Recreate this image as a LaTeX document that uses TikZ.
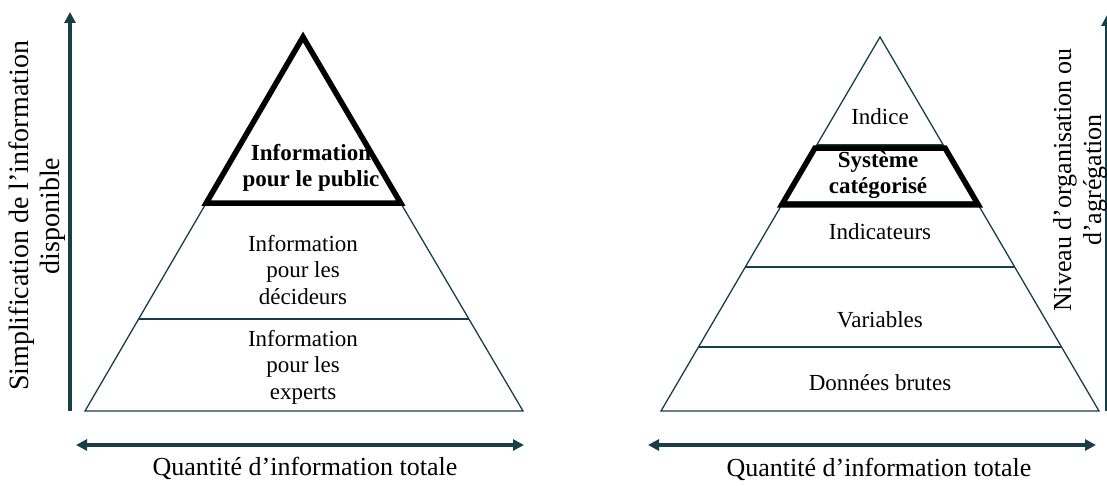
\documentclass[tikz,border=0pt]{standalone}
\usepackage{fontspec}
\setmainfont{Liberation Serif}
\usetikzlibrary{arrows.meta,calc}
\definecolor{pteal}{RGB}{24,62,72}

\begin{document}
\begin{tikzpicture}[x=1pt, y=-1pt,
  layer/.style={draw=pteal, line width=1.3pt},
  frame/.style={draw=black, line width=5.5pt, line join=miter},
  axis/.style={draw=pteal, line width=4pt, -{Triangle[length=11pt, width=11pt]}},
  axisboth/.style={draw=pteal, line width=4pt,
                   {Triangle[length=11pt, width=11pt]}-{Triangle[length=11pt, width=11pt]}},
  lvl/.style={align=center, font=\fontsize{23}{26.5}\selectfont, inner sep=0pt},
  lvlb/.style={lvl, font=\fontsize{23}{26.5}\selectfont\bfseries},
  axlabel/.style={align=center, font=\fontsize{26}{30}\selectfont, inner sep=0pt}
]
\useasboundingbox (0,0) rectangle (1107,486);

% left pyramid
\coordinate (ltop) at (303,37);
\coordinate (lbl) at (85,411);
\coordinate (lbr) at (523,411);
\draw[layer] (ltop) -- (lbl) -- (lbr) -- cycle;
\draw[layer] ($(ltop)!0.754!(lbl)$) -- ($(ltop)!0.754!(lbr)$);
\draw[frame] (ltop) -- ($(ltop)!0.444!(lbl)$) -- ($(ltop)!0.444!(lbr)$) -- cycle;

\node[lvlb] (public) at (311,168) {Information\\pour le public};
\node[lvl] (decideurs) at (303,270) {Information\\pour les\\décideurs};
\node[lvl] (experts) at (303,367) {Information\\pour les\\experts};

% right pyramid
\coordinate (rtop) at (880,37);
\coordinate (rbl) at (661,411);
\coordinate (rbr) at (1099,411);
\draw[layer] (rtop) -- (rbl) -- (rbr) -- cycle;
\foreach \t in {0.289,0.439,0.615,0.829}
  \draw[layer] ($(rtop)!\t!(rbl)$) -- ($(rtop)!\t!(rbr)$);
\draw[frame] ($(rtop)!0.297!(rbl)$) -- ($(rtop)!0.297!(rbr)$)
  -- ($(rtop)!0.449!(rbr)$) -- ($(rtop)!0.449!(rbl)$) -- cycle;

\node[lvl] (indice) at (880,117) {Indice};
\node[lvlb] (systeme) at (878,175) {Système\\catégorisé};
\node[lvl] (indicateurs) at (880,232) {Indicateurs};
\node[lvl] (variables) at (880,320) {Variables};
\node[lvl] (donnees) at (880,383) {Données brutes};

% axes
\coordinate (lvb) at (70,411);
\coordinate (lvt) at (70,12);
\coordinate (lhl) at (76,445);
\coordinate (lhr) at (524,445);
\coordinate (rvb) at (1107,411);
\coordinate (rvt) at (1107,15);
\coordinate (rhl) at (648,445);
\coordinate (rhr) at (1096,445);
\draw[axis] (lvb) -- (lvt);
\draw[axis] (rvb) -- (rvt);
\draw[axisboth] (lhl) -- (lhr);
\draw[axisboth] (rhl) -- (rhr);

\node[axlabel, rotate=90, font=\fontsize{28}{31.5}\selectfont] (simpl) at (37,216)
  {Simplification de l’information\\disponible};
\node[axlabel, rotate=90] (niveau) at (1080,180)
  {Niveau d’organisation ou\\d’agrégation};
\node[axlabel] (qtleft) at (305,468) {Quantité d’information totale};
\node[axlabel] (qtright) at (879,469) {Quantité d’information totale};
\end{tikzpicture}
\end{document}
